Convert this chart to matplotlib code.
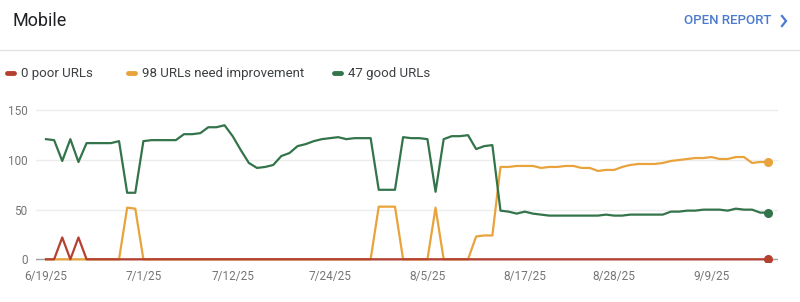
import numpy as np
import pandas as pd
import matplotlib
matplotlib.use("Agg")
import matplotlib.pyplot as plt
import matplotlib.dates as mdates
from matplotlib.lines import Line2D

#
# data (one value per day, 6/19/25 -> 9/16/25)
#
start_date = "2025-06-19"
poor = [0, 0, 22, 0, 22] + [0] * 85
need_improvement = ([0] * 10 + [52, 51] + [0] * 29 + [53, 53, 53] + [0] * 4 + [52]
                    + [0] * 4 + [23, 24, 24,
                    93, 93, 94, 94, 94, 92, 93, 93, 94, 94, 92, 92, 89, 90, 90, 93, 95,
                    96, 96, 96, 97, 99, 100, 101, 102, 102, 103, 101, 101, 103, 103, 97, 98, 98])
good = [121, 120, 99, 121, 98, 117, 117, 117, 117, 119, 67, 67, 119, 120, 120, 120,
        120, 126, 126, 127, 133, 133, 135, 124, 110, 97, 92, 93, 95, 104, 107, 114,
        116, 119, 121, 122, 123, 121, 122, 122, 122, 70, 70, 70, 123, 122, 122, 121,
        68, 121, 124, 124, 125, 111, 114, 115, 49, 48, 46, 48, 46, 45, 44, 44, 44,
        44, 44, 44, 44, 45, 44, 44, 45, 45, 45, 45, 45, 48, 48, 49, 49, 50, 50, 50,
        49, 51, 50, 50, 47, 47]
tick_dates = ["2025-06-19", "2025-07-01", "2025-07-12", "2025-07-24",
              "2025-08-05", "2025-08-17", "2025-08-28", "2025-09-09"]
tick_labels = ["6/19/25", "7/1/25", "7/12/25", "7/24/25", "8/5/25", "8/17/25", "8/28/25", "9/9/25"]
y_ticks = [0, 50, 100, 150]
legend_labels = ["0 poor URLs", "98 URLs need improvement", "47 good URLs"]

dates = pd.date_range(start_date, periods=len(good), freq="D")

red = "#b5402f"
orange = "#e8a33c"
green = "#33744a"
gray_txt = "#757575"

plt.rcParams["font.family"] = ["Roboto", "DejaVu Sans"]

fig = plt.figure(figsize=(8, 3.02), dpi=100)
W, H = 800, 302


def fx(px):
    return px / W


def fy(py):
    return 1 - py / H


# header
fig.text(fx(12), fy(21), "Mobile", fontsize=13, color="#202124", va="center", ha="left")
fig.text(fx(771), fy(21), "OPEN REPORT", fontsize=9.5, color="#4a7bd0", va="center",
         ha="right", fontweight="medium")
# chevron icon
fig.add_artist(Line2D([fx(782), fx(786), fx(782)], [fy(16), fy(21), fy(26)],
                      color="#4a7bd0", lw=1.6, solid_joinstyle="miter"))
fig.add_artist(Line2D([0, 1], [fy(50), fy(50)], color="#e3e3e3", lw=1))

# legend
leg_x = [6, 127, 333]
for lx, lab, c in zip(leg_x, legend_labels, [red, orange, green]):
    fig.add_artist(Line2D([fx(lx + 1), fx(lx + 8)], [fy(73), fy(73)], color=c, lw=3.5,
                          solid_capstyle="round"))
    fig.text(fx(lx + 15), fy(73), lab, fontsize=9.5, color="#3c4043", va="center", ha="left")

# plot area
x0, x1 = 36, 778
ytop, ybot = 107, 262
ax = fig.add_axes([fx(x0), fy(ybot), (x1 - x0) / W, (ybot - ytop) / H])
per_day = 8.116
pad_l = (46 - x0) / per_day
pad_r = (x1 - 768.3) / per_day
ax.set_xlim(dates[0] - pd.Timedelta(days=pad_l), dates[-1] + pd.Timedelta(days=pad_r))
ax.set_ylim((259.3 - ybot) / 0.993, (259.3 - ytop) / 0.993)

for yv in y_ticks[1:]:
    ax.axhline(yv, color="#ececec", lw=1, zorder=0)
ax.axhline(0, color="#9e9e9e", lw=1, zorder=0)

ax.plot(dates, need_improvement, color=orange, lw=1.6, zorder=2)
ax.plot(dates, good, color=green, lw=1.6, zorder=3)
ax.plot(dates, poor, color=red, lw=1.6, zorder=4)
for s, c in [(need_improvement, orange), (good, green), (poor, red)]:
    ax.plot(dates[-1], s[-1], "o", color=c, ms=5.5, zorder=5)

ax.set_yticks(y_ticks)
ax.set_xticks(pd.to_datetime(tick_dates))
ax.set_xticklabels(tick_labels)
ax.tick_params(axis="both", length=0, labelsize=8.5, labelcolor=gray_txt)
ax.tick_params(axis="y", pad=6)
ax.tick_params(axis="x", pad=6)
for sp in ax.spines.values():
    sp.set_visible(False)
ax.patch.set_alpha(0)

fig.savefig("out.png", dpi=100, facecolor="white")
